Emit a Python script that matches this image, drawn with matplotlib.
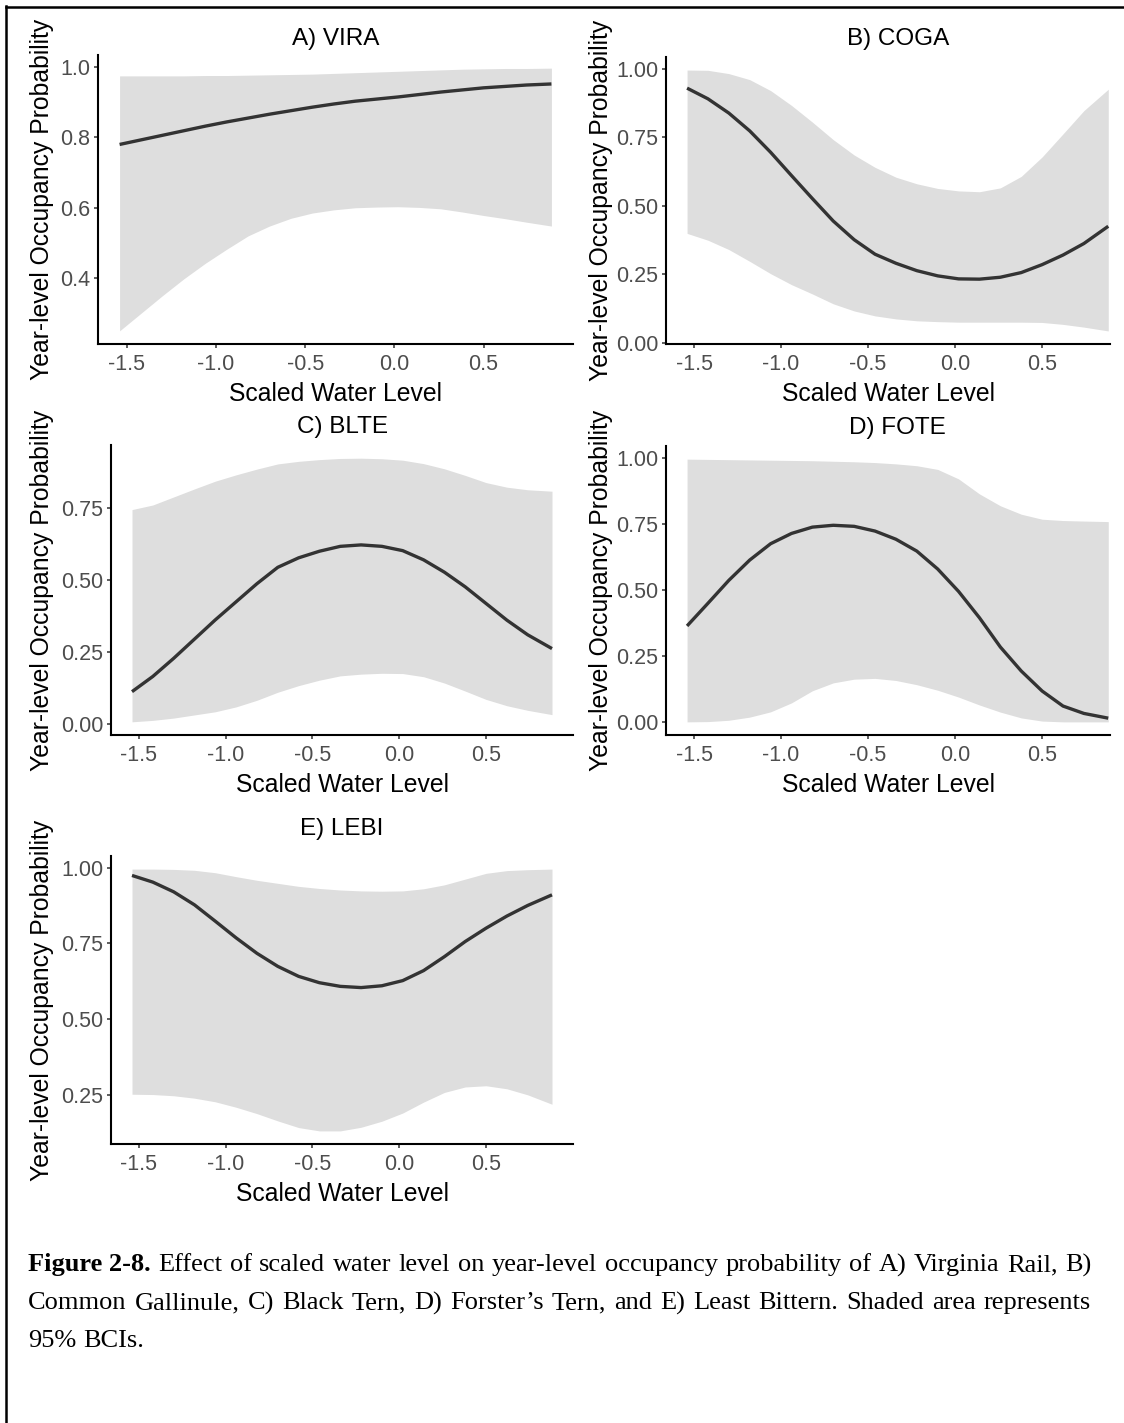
import matplotlib
matplotlib.use("Agg")
import matplotlib.pyplot as plt
from matplotlib.lines import Line2D
from matplotlib.ticker import MultipleLocator, FormatStrFormatter

plt.rcParams['font.family'] = ['Liberation Sans', 'DejaVu Sans']

# scaled water level (shared grid)
water = [-1.54, -1.42, -1.30, -1.18, -1.06, -0.94, -0.82, -0.70, -0.58, -0.46, -0.34,
         -0.22, -0.10, 0.02, 0.14, 0.26, 0.38, 0.50, 0.62, 0.74, 0.88]
water_ticks = [-1.5, -1.0, -0.5, 0.0, 0.5]

vira_mean = [0.780, 0.793, 0.806, 0.819, 0.832, 0.844, 0.855, 0.866, 0.876, 0.886, 0.895,
             0.903, 0.909, 0.915, 0.922, 0.929, 0.935, 0.941, 0.945, 0.949, 0.952]
vira_hi = [0.975, 0.975, 0.975, 0.975, 0.976, 0.976, 0.977, 0.978, 0.979, 0.980, 0.982,
           0.984, 0.986, 0.988, 0.990, 0.992, 0.994, 0.995, 0.996, 0.996, 0.997]
vira_lo = [0.250, 0.300, 0.350, 0.398, 0.442, 0.482, 0.520, 0.548, 0.570, 0.585, 0.594,
           0.600, 0.602, 0.603, 0.601, 0.597, 0.588, 0.578, 0.569, 0.559, 0.548]

coga_mean = [0.929, 0.890, 0.838, 0.773, 0.695, 0.610, 0.526, 0.444, 0.376, 0.323, 0.290,
             0.263, 0.244, 0.233, 0.232, 0.239, 0.256, 0.285, 0.320, 0.362, 0.425]
coga_hi = [0.995, 0.994, 0.982, 0.960, 0.920, 0.866, 0.805, 0.741, 0.685, 0.640, 0.604,
           0.580, 0.563, 0.554, 0.551, 0.565, 0.607, 0.678, 0.762, 0.847, 0.925]
coga_lo = [0.399, 0.374, 0.340, 0.297, 0.252, 0.212, 0.178, 0.142, 0.116, 0.098, 0.087,
           0.080, 0.077, 0.075, 0.075, 0.075, 0.075, 0.074, 0.067, 0.057, 0.043]

blte_mean = [0.112, 0.165, 0.228, 0.295, 0.362, 0.425, 0.488, 0.545, 0.578, 0.601, 0.618,
             0.623, 0.618, 0.603, 0.571, 0.528, 0.477, 0.419, 0.361, 0.310, 0.262]
blte_hi = [0.746, 0.762, 0.790, 0.818, 0.845, 0.867, 0.887, 0.905, 0.914, 0.920, 0.924,
           0.925, 0.923, 0.918, 0.906, 0.888, 0.865, 0.840, 0.824, 0.815, 0.810]
blte_lo = [0.007, 0.012, 0.020, 0.031, 0.042, 0.059, 0.082, 0.110, 0.133, 0.152, 0.167,
           0.173, 0.176, 0.175, 0.164, 0.142, 0.114, 0.085, 0.063, 0.047, 0.032]

fote_mean = [0.364, 0.450, 0.537, 0.614, 0.676, 0.715, 0.739, 0.746, 0.742, 0.724, 0.693,
             0.648, 0.580, 0.495, 0.395, 0.284, 0.193, 0.117, 0.060, 0.032, 0.014]
fote_hi = [0.997, 0.996, 0.995, 0.994, 0.993, 0.992, 0.991, 0.989, 0.987, 0.984, 0.979,
           0.972, 0.958, 0.922, 0.865, 0.820, 0.788, 0.769, 0.764, 0.762, 0.760]
fote_lo = [0.000, 0.001, 0.006, 0.018, 0.038, 0.072, 0.118, 0.148, 0.162, 0.165, 0.157,
           0.141, 0.120, 0.094, 0.064, 0.037, 0.015, 0.003, 0.000, 0.000, 0.000]

lebi_mean = [0.974, 0.952, 0.920, 0.877, 0.823, 0.768, 0.717, 0.674, 0.641, 0.620, 0.608,
             0.604, 0.610, 0.627, 0.660, 0.706, 0.756, 0.800, 0.840, 0.875, 0.910]
lebi_hi = [0.995, 0.995, 0.994, 0.991, 0.983, 0.970, 0.958, 0.948, 0.938, 0.931, 0.926,
           0.923, 0.922, 0.923, 0.930, 0.943, 0.962, 0.981, 0.990, 0.993, 0.995]
lebi_lo = [0.252, 0.251, 0.247, 0.239, 0.227, 0.209, 0.188, 0.164, 0.142, 0.131, 0.131,
           0.143, 0.163, 0.190, 0.226, 0.258, 0.276, 0.280, 0.270, 0.250, 0.219]

titles = ["A) VIRA", "B) COGA", "C) BLTE", "D) FOTE", "E) LEBI"]
means = [vira_mean, coga_mean, blte_mean, fote_mean, lebi_mean]
highs = [vira_hi, coga_hi, blte_hi, fote_hi, lebi_hi]
lows = [vira_lo, coga_lo, blte_lo, fote_lo, lebi_lo]

caption_lines = [
    ["Figure 2-8.", "Effect of scaled water level on year-level occupancy probability of A) Virginia Rail, B)"],
    ["", "Common Gallinule, C) Black Tern, D) Forster\u2019s Tern, and E) Least Bittern. Shaded area represents"],
    ["", "95% BCIs."],
]

W, H = 1124, 1423
fig = plt.figure(figsize=(W / 100, H / 100), dpi=100)

# panel boxes in pixels: left, right, top, bottom, title centre y
boxes = [(98, 573, 55, 344, 39), (666, 1110, 57, 344, 39),
         (111, 573, 445, 735, 427), (666, 1110, 446, 735, 428),
         (111, 573, 856, 1144, 829)]
cropped = [False, True, False, True, False]


def px_axes(l, r, t, b):
    return fig.add_axes([l / W, 1 - b / H, (r - l) / W, (b - t) / H])


for i in range(5):
    l, r, t, b, ty = boxes[i]
    ax = px_axes(l, r, t, b)
    ax.fill_between(water, lows[i], highs[i], color="#DEDEDE", lw=0)
    ax.plot(water, means[i], color="#333333", lw=2.4, solid_capstyle="butt")
    ax.margins(x=0.05, y=0.05)
    title_x = 0.5
    if cropped[i]:
        ax.set_xlim(right=0.89)
        x0, x1 = ax.get_xlim()
        full = water[-1] + 0.05 * (water[-1] - water[0])
        title_x = (0.5 * (x0 + full) - x0) / (x1 - x0)
    ax.text(title_x, (b - ty) / (b - t), titles[i], fontsize=17.5, ha="center", va="center",
            transform=ax.transAxes)
    ax.set_xticks(water_ticks)
    ax.xaxis.set_major_formatter(FormatStrFormatter('%.1f'))
    if i == 0:
        ax.yaxis.set_major_locator(MultipleLocator(0.2))
        ax.yaxis.set_major_formatter(FormatStrFormatter('%.1f'))
    else:
        ax.yaxis.set_major_locator(MultipleLocator(0.25))
        ax.yaxis.set_major_formatter(FormatStrFormatter('%.2f'))
    for s in ["top", "right"]:
        ax.spines[s].set_visible(False)
    for s in ["left", "bottom"]:
        ax.spines[s].set_linewidth(1.5)
        ax.spines[s].set_color("black")
    ax.tick_params(length=3, width=1.1, color="#333333", labelcolor="#4D4D4D",
                   labelsize=15.5)
    ax.tick_params(axis="x", pad=4)
    ax.tick_params(axis="y", pad=2.5)
    ax.set_xlabel("Scaled Water Level", fontsize=17.8, labelpad=5.5)
    ax.set_ylabel("Year-level Occupancy Probability", fontsize=17.8)
    lab_x = 54 if l < 300 else 613
    ax.yaxis.set_label_coords((lab_x - l) / (r - l), 0.5)

# outer frame (left and top edges)
fig.add_artist(Line2D([6 / W, 6 / W], [0, 1 - 6 / H], transform=fig.transFigure, color="black", lw=1.8))
fig.add_artist(Line2D([6 / W, 1], [1 - 7 / H, 1 - 7 / H], transform=fig.transFigure, color="black", lw=1.8))

# caption, justified like the source document (last line left aligned)
cap_font = ['Liberation Serif', 'DejaVu Serif']
cap_size = 19
cap_left, cap_right = 28, 1091
cap_y = [1265, 1303, 1341]
renderer = fig.canvas.get_renderer()
for k, (bold_part, plain_part) in enumerate(caption_lines):
    y = 1 - cap_y[k] / H
    words = []
    if bold_part:
        words.append((bold_part, "bold"))
    words += [(w, "normal") for w in plain_part.split(" ")]
    objs = []
    for w, weight in words:
        t = fig.text(0, y, w, fontsize=cap_size, fontweight=weight, family=cap_font, va="center")
        objs.append(t)
    widths = [o.get_window_extent(renderer=renderer).width for o in objs]
    last = k == len(caption_lines) - 1
    space = cap_size * 0.25 * 100 / 72
    if not last and len(objs) > 1:
        space = (cap_right - cap_left - sum(widths)) / (len(objs) - 1)
    x = cap_left
    for o, wd in zip(objs, widths):
        o.set_x(x / W)
        x += wd + space

fig.savefig("out.png", dpi=100)
